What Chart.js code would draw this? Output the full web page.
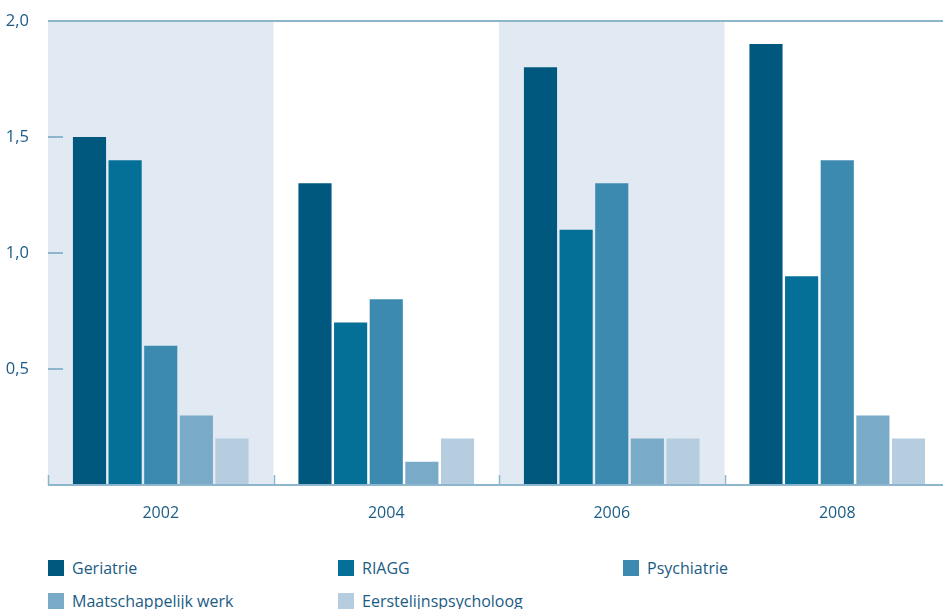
<!DOCTYPE html>
<html>
<head>
<meta charset="utf-8">
<script src="https://cdn.jsdelivr.net/npm/chart.js@4.4.1/dist/chart.umd.min.js"></script>
<style>
  html, body { margin: 0; padding: 0; background: #fff; overflow: hidden; }
  #wrap { position: relative; width: 950px; height: 520px; }
  #legend { position: absolute; left: 48px; top: 557px; width: 895px; display: grid;
    grid-template-columns: 290px 285px 300px; row-gap: 12px;
    font-family: "Open Sans", sans-serif; font-size: 16px; color: #1b5c85; }
  .item { display: flex; align-items: center; height: 21px; }
  .box { width: 16px; height: 16px; margin-right: 8px; }
</style>
</head>
<body>
<div id="wrap"><canvas id="grafico"></canvas></div>
<div id="legend"></div>
<script>
const jaren = ["2002", "2004", "2006", "2008"];
const reeksen = ["Geriatrie", "RIAGG", "Psychiatrie", "Maatschappelijk werk", "Eerstelijnspsycholoog"];
const geriatrie = [1.5, 1.3, 1.8, 1.9];
const riagg = [1.4, 0.7, 1.1, 0.9];
const psychiatrie = [0.6, 0.8, 1.3, 1.4];
const maatschappelijk = [0.3, 0.1, 0.2, 0.3];
const eerstelijns = [0.2, 0.2, 0.2, 0.2];
const yTicks = [0.5, 1.0, 1.5, 2.0];

const kleuren = ["#00587f", "#046f97", "#3c8ab0", "#79aac8", "#b6cde0"];
const tekstKleur = "#1b5c85";
const lijnKleur = "#8db6cd";
const bandKleur = "#e1e9f2";

// Achtergrondbanden en assen
const achtergrond = {
  id: "achtergrond",
  beforeDatasetsDraw(chart) {
    const { ctx, chartArea: a, scales: { x, y } } = chart;
    const w = x.width / jaren.length;
    ctx.save();
    ctx.fillStyle = bandKleur;
    jaren.forEach((j, i) => {
      if (i % 2 === 0) {
        const c = x.getPixelForValue(i);
        ctx.fillRect(c - w / 2, a.top, w, a.bottom - a.top);
      }
    });
    ctx.restore();
  },
  afterDatasetsDraw(chart) {
    const { ctx, chartArea: a, scales: { x, y } } = chart;
    const w = x.width / jaren.length;
    ctx.save();
    ctx.strokeStyle = lijnKleur;
    ctx.lineWidth = 2;
    ctx.beginPath();
    // bovenlijn
    ctx.moveTo(a.left, y.getPixelForValue(2));
    ctx.lineTo(a.right, y.getPixelForValue(2));
    // x-as
    ctx.moveTo(a.left, a.bottom);
    ctx.lineTo(a.right, a.bottom);
    // y-streepjes
    yTicks.slice(0, 3).forEach(v => {
      const py = y.getPixelForValue(v);
      ctx.moveTo(a.left, py);
      ctx.lineTo(a.left + 15, py);
    });
    ctx.stroke();
    ctx.lineWidth = 1.5;
    ctx.beginPath();
    for (let i = 0; i <= jaren.length; i++) {
      const px = Math.round(a.left + i * w) + 0.5;
      ctx.moveTo(px, a.bottom);
      ctx.lineTo(px, a.bottom - 10);
    }
    ctx.stroke();
    ctx.restore();
  }
};

const reeksData = [geriatrie, riagg, psychiatrie, maatschappelijk, eerstelijns];

new Chart(document.getElementById("grafico"), {
  type: "bar",
  data: {
    labels: jaren,
    datasets: reeksen.map((naam, i) => ({
      label: naam,
      data: reeksData[i],
      backgroundColor: kleuren[i],
      borderWidth: 0,
      categoryPercentage: 0.79,
      barPercentage: 0.93
    }))
  },
  options: {
    responsive: true,
    maintainAspectRatio: false,
    animation: false,
    layout: { padding: { top: 18, right: 0, left: 0, bottom: 0 } },
    plugins: { legend: { display: false }, tooltip: { enabled: false } },
    scales: {
      x: {
        grid: { display: false },
        border: { display: false },
        ticks: { color: tekstKleur, font: { family: "Open Sans", size: 16 }, padding: 11 },
        afterFit(s) { s.height = 35; }
      },
      y: {
        min: 0,
        max: 2,
        grid: { display: false },
        border: { display: false },
        afterBuildTicks(s) { s.ticks = yTicks.map(v => ({ value: v })); },
        ticks: {
          color: tekstKleur,
          font: { family: "Open Sans", size: 16.5 },
          padding: 11,
          callback: v => v.toFixed(1).replace(".", ",")
        },
        afterFit(s) { s.width = 48; }
      }
    }
  },
  plugins: [achtergrond]
});

// Legenda
document.getElementById("legend").innerHTML = reeksen.map((naam, i) =>
  `<div class="item"><span class="box" style="background:${kleuren[i]}"></span>${naam}</div>`
).join("");
</script>
</body>
</html>
